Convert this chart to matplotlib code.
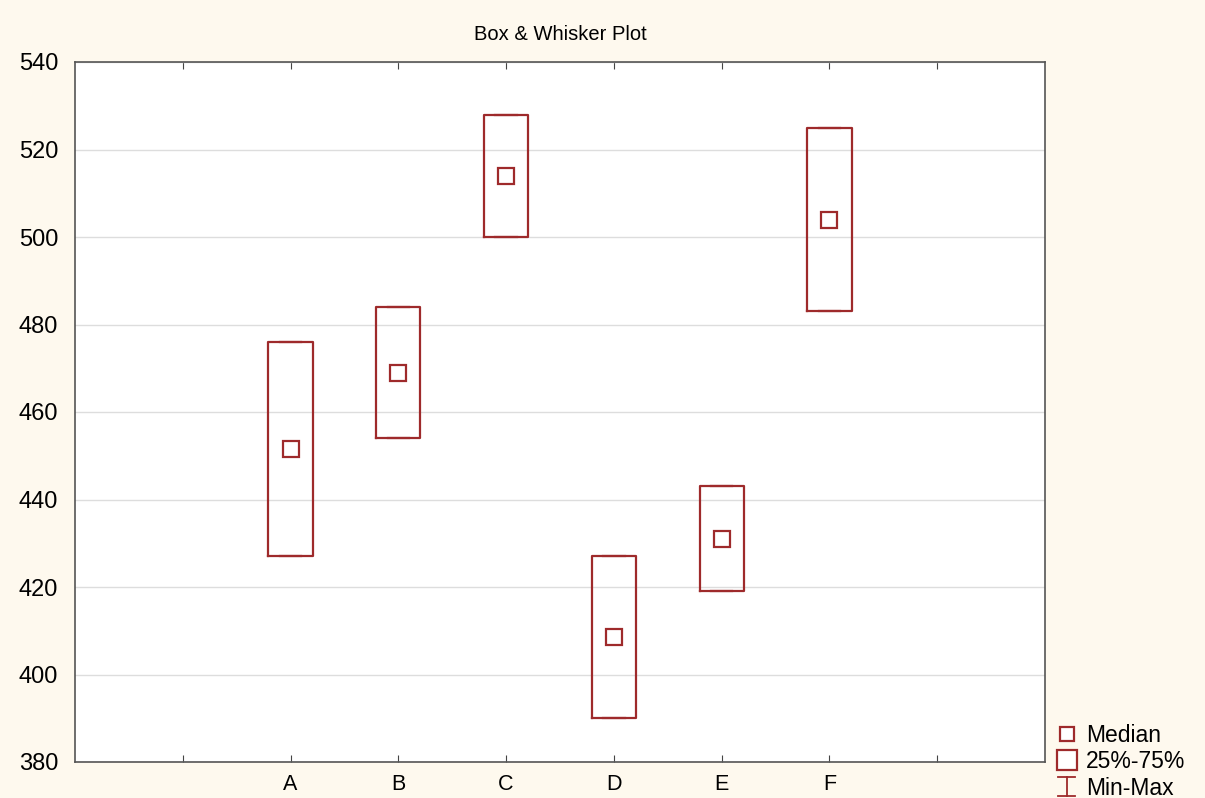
import matplotlib
matplotlib.use("Agg")
import matplotlib.pyplot as plt
from matplotlib.lines import Line2D
from matplotlib.legend_handler import HandlerBase

plt.rcParams['font.family'] = ['Liberation Sans', 'DejaVu Sans']

categories = ['A', 'B', 'C', 'D', 'E', 'F']
q1 = [427, 454, 500, 390, 419, 483]
q3 = [476, 484, 528, 427, 443, 525]
medians = [451.5, 469, 514, 408.5, 431, 504]
mins = [427, 454, 500, 390, 419, 483]
maxs = [476, 484, 528, 427, 443, 525]
yticks = [380, 400, 420, 440, 460, 480, 500, 520, 540]

red = '#9E2A2B'
bg = '#FEF9EE'

fig = plt.figure(figsize=(12.05, 7.98), dpi=100, facecolor=bg)
ax = fig.add_axes([75/1205, 1 - 762/798, 970/1205, 700/798])
ax.set_facecolor('white')

positions = list(range(2, 2 + len(categories)))
stats = []
for c, lo, a, m, b, hi in zip(categories, mins, q1, medians, q3, maxs):
    stats.append(dict(label=c, whislo=lo, q1=a, med=m, q3=b, whishi=hi))

ax.bxp(stats, positions=positions, widths=0.41, showfliers=False,
       boxprops=dict(color=red, linewidth=1.6),
       whiskerprops=dict(color=red, linewidth=1.6),
       capprops=dict(color=red, linewidth=1.6),
       medianprops=dict(visible=False), capwidths=0.2)
ax.plot(positions, medians, linestyle='none', marker='s', markersize=12,
        markerfacecolor='white', markeredgecolor=red, markeredgewidth=1.6, zorder=5)

ax.set_xlim(0, 9)
ax.set_ylim(380, 540)
ax.set_yticks(yticks)
ax.set_xticks([1] + positions + [8])
ax.set_xticklabels([''] + categories + [''])
ax.yaxis.grid(True, color='#DDDDDD', linewidth=1.0)
ax.set_axisbelow(True)
ax.tick_params(axis='x', direction='in', top=True, length=5, labelsize=15.5, pad=9, color='#444444')
ax.tick_params(axis='y', direction='in', length=0, labelsize=17, pad=12)
for s in ax.spines.values():
    s.set_color('#555555')
    s.set_linewidth(1.2)

ax.set_title('Box & Whisker Plot', fontsize=14.5, pad=16)


class WhiskerHandler(HandlerBase):
    def create_artists(self, legend, orig_handle, xdescent, ydescent, width, height, fontsize, trans):
        cx = width / 2 - xdescent
        y0 = -ydescent - 1
        y1 = height - ydescent + 1
        w = 6
        lines = [
            Line2D([cx, cx], [y0, y1], color=red, lw=1.3),
            Line2D([cx - w, cx + w], [y0, y0], color=red, lw=1.3),
            Line2D([cx - w, cx + w], [y1, y1], color=red, lw=1.3),
        ]
        for l in lines:
            l.set_transform(trans)
        return lines


h_med = Line2D([], [], linestyle='none', marker='s', markersize=10,
               markerfacecolor='white', markeredgecolor=red, markeredgewidth=1.6)
h_box = Line2D([], [], linestyle='none', marker='s', markersize=15,
               markerfacecolor='white', markeredgecolor=red, markeredgewidth=1.6)
h_mm = object()
leg = fig.legend([h_med, h_box, h_mm], ['Median', '25%-75%', 'Min-Max'],
                 handler_map={object: WhiskerHandler()},
                 loc='lower left', bbox_to_anchor=(1039/1205, -0.022),
                 frameon=False, fontsize=16.5, handlelength=1.0, handletextpad=0.35,
                 labelspacing=0.15, borderaxespad=0.3)

fig.savefig('out.png', dpi=100, facecolor=bg)
